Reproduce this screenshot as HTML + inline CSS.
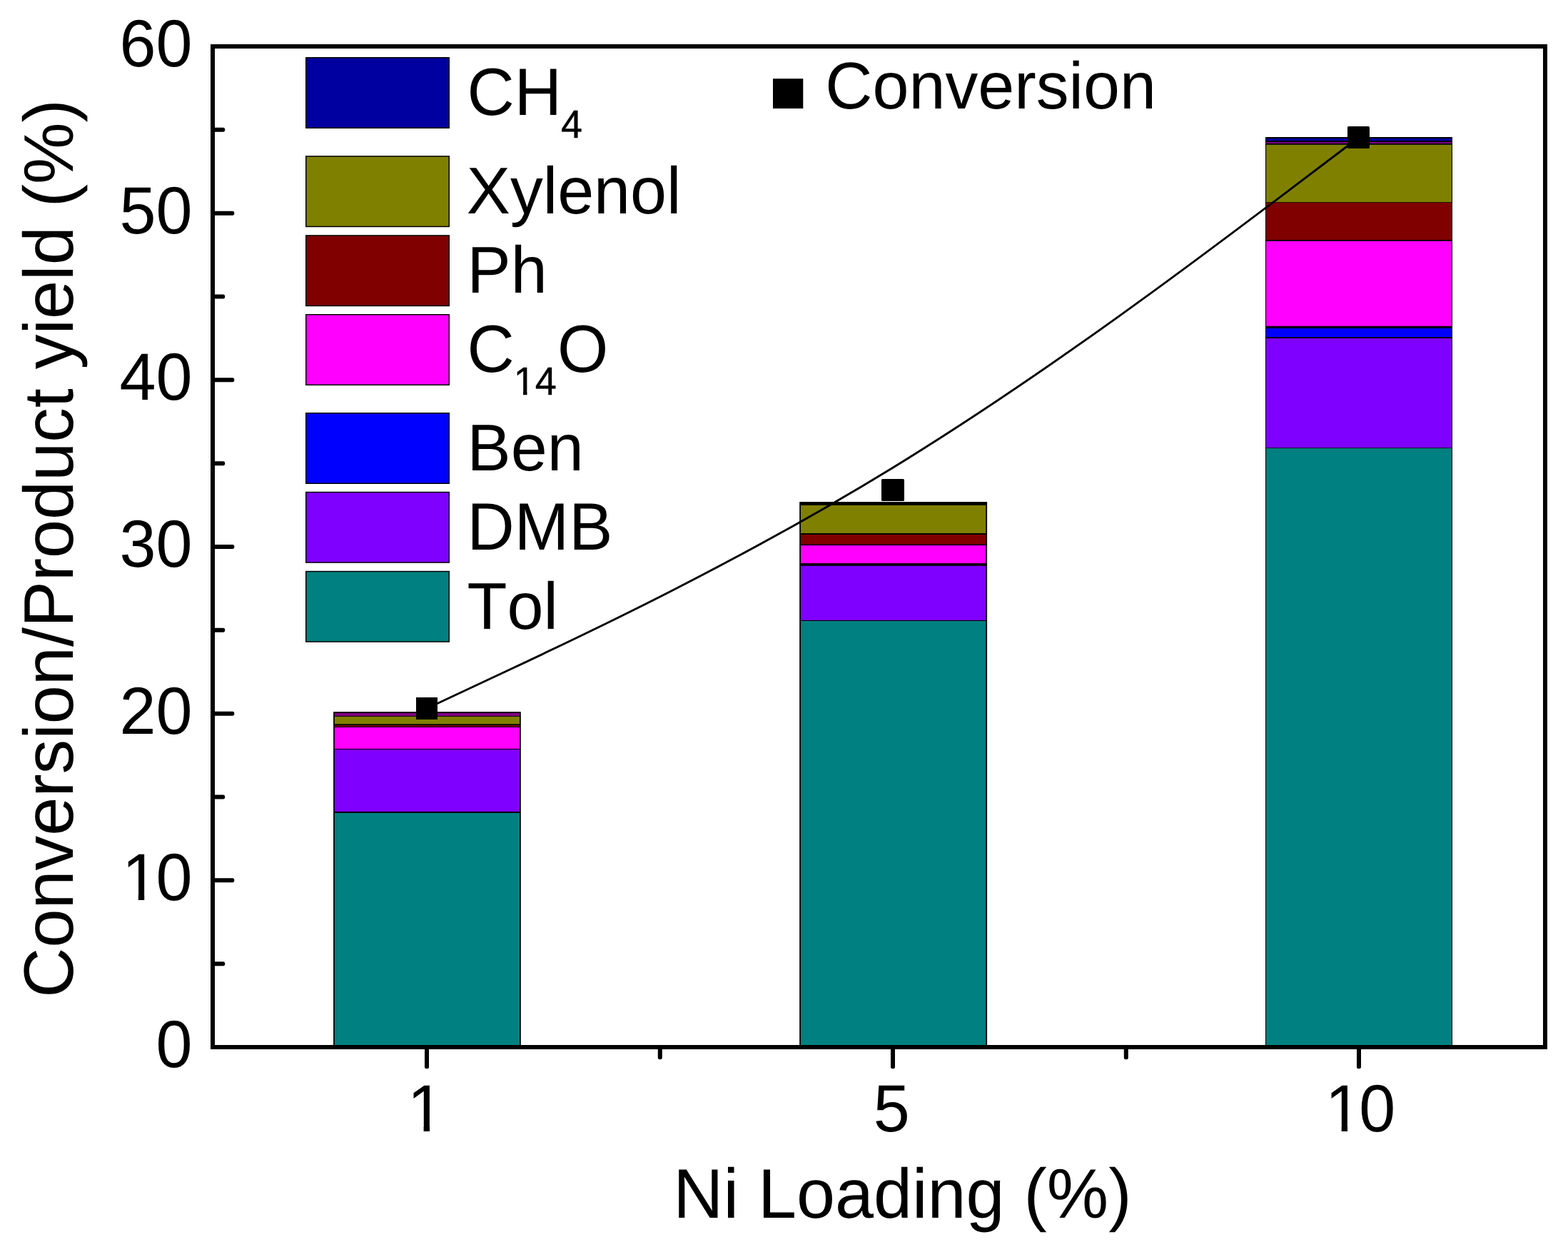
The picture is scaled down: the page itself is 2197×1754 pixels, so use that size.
<!DOCTYPE html>
<html lang="en"><head><meta charset="utf-8"><title>Conversion / Product yield vs Ni Loading</title>
<style>html,body{margin:0;padding:0;background:#fff;}body{width:2197px;height:1754px;overflow:hidden;}svg{display:block;}text{font-family:"Liberation Sans",sans-serif;fill:#000;font-kerning:none;font-variant-ligatures:none;text-rendering:geometricPrecision;}</style>
</head><body>
<svg role="img" aria-label="Stacked bar chart of product yield and conversion versus Ni loading" width="2197" height="1754" viewBox="0 0 2197 1754" shape-rendering="auto">
<rect x="0" y="0" width="2197" height="1754" fill="#fff"/>
<g id="bars" class="series stacked-bars">
<rect x="467.10" y="997.20" width="262.70" height="469.80" fill="#000"/>
<rect x="468.90" y="999.00" width="259.10" height="4.10" fill="#800080"/>
<rect x="468.90" y="1004.00" width="259.10" height="10.30" fill="#808000"/>
<rect x="468.90" y="1016.20" width="259.10" height="1.80" fill="#800000"/>
<rect x="468.90" y="1019.00" width="259.10" height="30.00" fill="#ff00ff"/>
<rect x="468.90" y="1050.00" width="259.10" height="87.00" fill="#8000ff"/>
<rect x="468.90" y="1139.00" width="259.10" height="328.00" fill="#008080"/>
<rect x="1120.20" y="703.10" width="262.90" height="763.90" fill="#000"/>
<rect x="1122.00" y="707.90" width="259.30" height="39.10" fill="#808000"/>
<rect x="1122.00" y="749.00" width="259.30" height="13.60" fill="#800000"/>
<rect x="1122.00" y="764.10" width="259.30" height="25.00" fill="#ff00ff"/>
<rect x="1122.00" y="792.80" width="259.30" height="76.20" fill="#8000ff"/>
<rect x="1122.00" y="870.00" width="259.30" height="597.00" fill="#008080"/>
<rect x="1773.00" y="192.00" width="262.00" height="1275.00" fill="#000"/>
<rect x="1774.10" y="193.90" width="259.80" height="3.30" fill="#0000a0"/>
<rect x="1774.10" y="199.00" width="259.80" height="2.00" fill="#800080"/>
<rect x="1774.10" y="202.80" width="259.80" height="80.40" fill="#808000"/>
<rect x="1774.10" y="284.00" width="259.80" height="52.00" fill="#800000"/>
<rect x="1774.10" y="337.80" width="259.80" height="119.00" fill="#ff00ff"/>
<rect x="1774.10" y="460.00" width="259.80" height="12.20" fill="#0000ff"/>
<rect x="1774.10" y="474.00" width="259.80" height="153.20" fill="#8000ff"/>
<rect x="1774.10" y="628.00" width="259.80" height="839.00" fill="#008080"/>
</g>
<g id="conversion" class="series line-symbol">
<path d="M598.00 992.50 C598.00 992.50 598.00 992.50 706.83 941.50 C815.67 890.50 1033.33 788.50 1251.00 655.17 C1468.67 521.83 1686.33 357.17 1795.17 274.83 C1904.00 192.50 1904.00 192.50 1904.00 192.50" fill="none" stroke="#000" stroke-width="2.9"/>
<rect x="583.00" y="977.00" width="30.00" height="31.00" fill="#000" rx="0"/>
<rect x="1235.00" y="671.00" width="32.00" height="31.00" fill="#000" rx="1.5"/>
<rect x="1888.00" y="177.00" width="31.00" height="31.00" fill="#000" rx="1.5"/>
</g>
<rect id="frame" x="298" y="65" width="1867" height="1402" fill="none" stroke="#000" stroke-width="6"/>
<g id="ticks" fill="#000">
<path d="M300 1347.17 H312.7 Q315.2 1347.17 315.2 1350.17 Q315.2 1353.17 312.7 1353.17 H300 Z"/>
<path d="M300 1230.33 H325.8 Q328.3 1230.33 328.3 1233.33 Q328.3 1236.33 325.8 1236.33 H300 Z"/>
<path d="M300 1113.50 H312.7 Q315.2 1113.50 315.2 1116.50 Q315.2 1119.50 312.7 1119.50 H300 Z"/>
<path d="M300 996.67 H325.8 Q328.3 996.67 328.3 999.67 Q328.3 1002.67 325.8 1002.67 H300 Z"/>
<path d="M300 879.83 H312.7 Q315.2 879.83 315.2 882.83 Q315.2 885.83 312.7 885.83 H300 Z"/>
<path d="M300 763.00 H325.8 Q328.3 763.00 328.3 766.00 Q328.3 769.00 325.8 769.00 H300 Z"/>
<path d="M300 646.17 H312.7 Q315.2 646.17 315.2 649.17 Q315.2 652.17 312.7 652.17 H300 Z"/>
<path d="M300 529.33 H325.8 Q328.3 529.33 328.3 532.33 Q328.3 535.33 325.8 535.33 H300 Z"/>
<path d="M300 412.50 H312.7 Q315.2 412.50 315.2 415.50 Q315.2 418.50 312.7 418.50 H300 Z"/>
<path d="M300 295.67 H325.8 Q328.3 295.67 328.3 298.67 Q328.3 301.67 325.8 301.67 H300 Z"/>
<path d="M300 178.83 H312.7 Q315.2 178.83 315.2 181.83 Q315.2 184.83 312.7 184.83 H300 Z"/>
<path d="M595.00 1468 V1494.7 Q595.00 1497.2 598.00 1497.2 Q601.00 1497.2 601.00 1494.7 V1468 Z"/>
<path d="M1248.00 1468 V1494.7 Q1248.00 1497.2 1251.00 1497.2 Q1254.00 1497.2 1254.00 1494.7 V1468 Z"/>
<path d="M1901.00 1468 V1494.7 Q1901.00 1497.2 1904.00 1497.2 Q1907.00 1497.2 1907.00 1494.7 V1468 Z"/>
<path d="M921.80 1468 V1481.7 Q921.80 1484.2 924.80 1484.2 Q927.80 1484.2 927.80 1481.7 V1468 Z"/>
<path d="M1574.80 1468 V1481.7 Q1574.80 1484.2 1577.80 1484.2 Q1580.80 1484.2 1580.80 1481.7 V1468 Z"/>
</g>
<g id="tick-labels">
<text transform="translate(269.40 1495.00) scale(1 1.0180)" font-size="91.67" text-anchor="end">0</text>
<text transform="translate(265.90 1261.33) scale(1 1.0180)" font-size="91.67" text-anchor="end"><tspan dx="3.5">1</tspan><tspan dx="-3.5">0</tspan></text>
<text transform="translate(269.40 1027.67) scale(1 1.0180)" font-size="91.67" text-anchor="end">20</text>
<text transform="translate(269.40 794.00) scale(1 1.0180)" font-size="91.67" text-anchor="end">30</text>
<text transform="translate(269.40 560.33) scale(1 1.0180)" font-size="91.67" text-anchor="end">40</text>
<text transform="translate(269.40 326.67) scale(1 1.0180)" font-size="91.67" text-anchor="end">50</text>
<text transform="translate(269.40 93.00) scale(1 1.0180)" font-size="91.67" text-anchor="end">60</text>
<text transform="translate(596.20 1585.00) scale(1 1.0180)" font-size="91.67" text-anchor="middle">1</text>
<text transform="translate(1249.30 1585.00) scale(1 1.0180)" font-size="91.67" text-anchor="middle">5</text>
<text transform="translate(1902.50 1585.00) scale(1 1.0180)" font-size="91.67" text-anchor="middle"><tspan dx="3.5">1</tspan><tspan dx="-3.5">0</tspan></text>
</g>
<g id="axis-titles">
<text transform="translate(943.30 1706.00) scale(1 1.0120)" font-size="97.10" text-anchor="start">Ni Loading (%)</text>
<text transform="translate(102 1397.7) rotate(-90) scale(1 1.0120)" font-size="97.20">Conversion/Product yield (%)</text>
</g>
<g id="legend">
<rect x="428.00" y="80.00" width="202.00" height="100.00" fill="#000"/>
<rect x="429.50" y="81.50" width="199.00" height="97.00" fill="#0000a0"/>
<text transform="translate(654.60 161.00) scale(1 1.0220)" font-size="91.67" text-anchor="start">CH<tspan font-size="54.0" dx="-1" dy="31" stroke="#000" stroke-width="0.4">4</tspan></text>
<rect x="428.00" y="218.20" width="202.00" height="100.00" fill="#000"/>
<rect x="429.50" y="219.70" width="199.00" height="97.00" fill="#808000"/>
<text transform="translate(653.80 299.00) scale(1 1.0120)" font-size="91.67" text-anchor="start">Xylenol</text>
<rect x="428.00" y="329.20" width="202.00" height="100.00" fill="#000"/>
<rect x="429.50" y="330.70" width="199.00" height="97.00" fill="#800000"/>
<text transform="translate(654.60 409.50) scale(1 1.0120)" font-size="91.67" text-anchor="start">Ph</text>
<rect x="428.00" y="440.00" width="202.00" height="100.00" fill="#000"/>
<rect x="429.50" y="441.50" width="199.00" height="97.00" fill="#ff00ff"/>
<text transform="translate(654.60 521.00) scale(1 1.0220)" font-size="91.67" text-anchor="start">C<tspan font-size="54.0" dx="-1" dy="31" stroke="#000" stroke-width="0.4">14</tspan><tspan dy="-31" dx="1">O</tspan></text>
<rect x="428.00" y="578.00" width="202.00" height="100.00" fill="#000"/>
<rect x="429.50" y="579.50" width="199.00" height="97.00" fill="#0000ff"/>
<text transform="translate(654.60 658.60) scale(1 1.0120)" font-size="91.67" text-anchor="start">Ben</text>
<rect x="428.00" y="688.80" width="202.00" height="100.00" fill="#000"/>
<rect x="429.50" y="690.30" width="199.00" height="97.00" fill="#8000ff"/>
<text transform="translate(654.60 769.60) scale(1 1.0220)" font-size="91.67" text-anchor="start">DMB</text>
<rect x="428.00" y="799.80" width="202.00" height="100.00" fill="#000"/>
<rect x="429.50" y="801.30" width="199.00" height="97.00" fill="#008080"/>
<text transform="translate(654.60 880.70) scale(1 1.0120)" font-size="91.67" text-anchor="start">Tol</text>
<rect x="1083.00" y="110.20" width="42.30" height="41.80" fill="#000"/>
<text transform="translate(1156.30 151.50) scale(1 1.0120)" font-size="91.67" text-anchor="start">Conversion</text>
</g>
<g id="glyph-trim" fill="#fff" aria-hidden="true">
<rect x="176.32" y="1253.36" width="17.52" height="10.57" fill="#fff"/>
<rect x="202.23" y="1253.36" width="16.80" height="10.57" fill="#fff"/>
<rect x="576.09" y="1577.03" width="17.52" height="10.57" fill="#fff"/>
<rect x="602.01" y="1577.03" width="16.80" height="10.57" fill="#fff"/>
<rect x="1862.15" y="1577.03" width="17.52" height="10.57" fill="#fff"/>
<rect x="1888.07" y="1577.03" width="16.80" height="10.57" fill="#fff"/>
<rect x="722.32" y="547.56" width="10.72" height="7.72" fill="#fff"/>
<rect x="738.50" y="547.56" width="10.29" height="7.72" fill="#fff"/>
</g>
</svg></body></html>
